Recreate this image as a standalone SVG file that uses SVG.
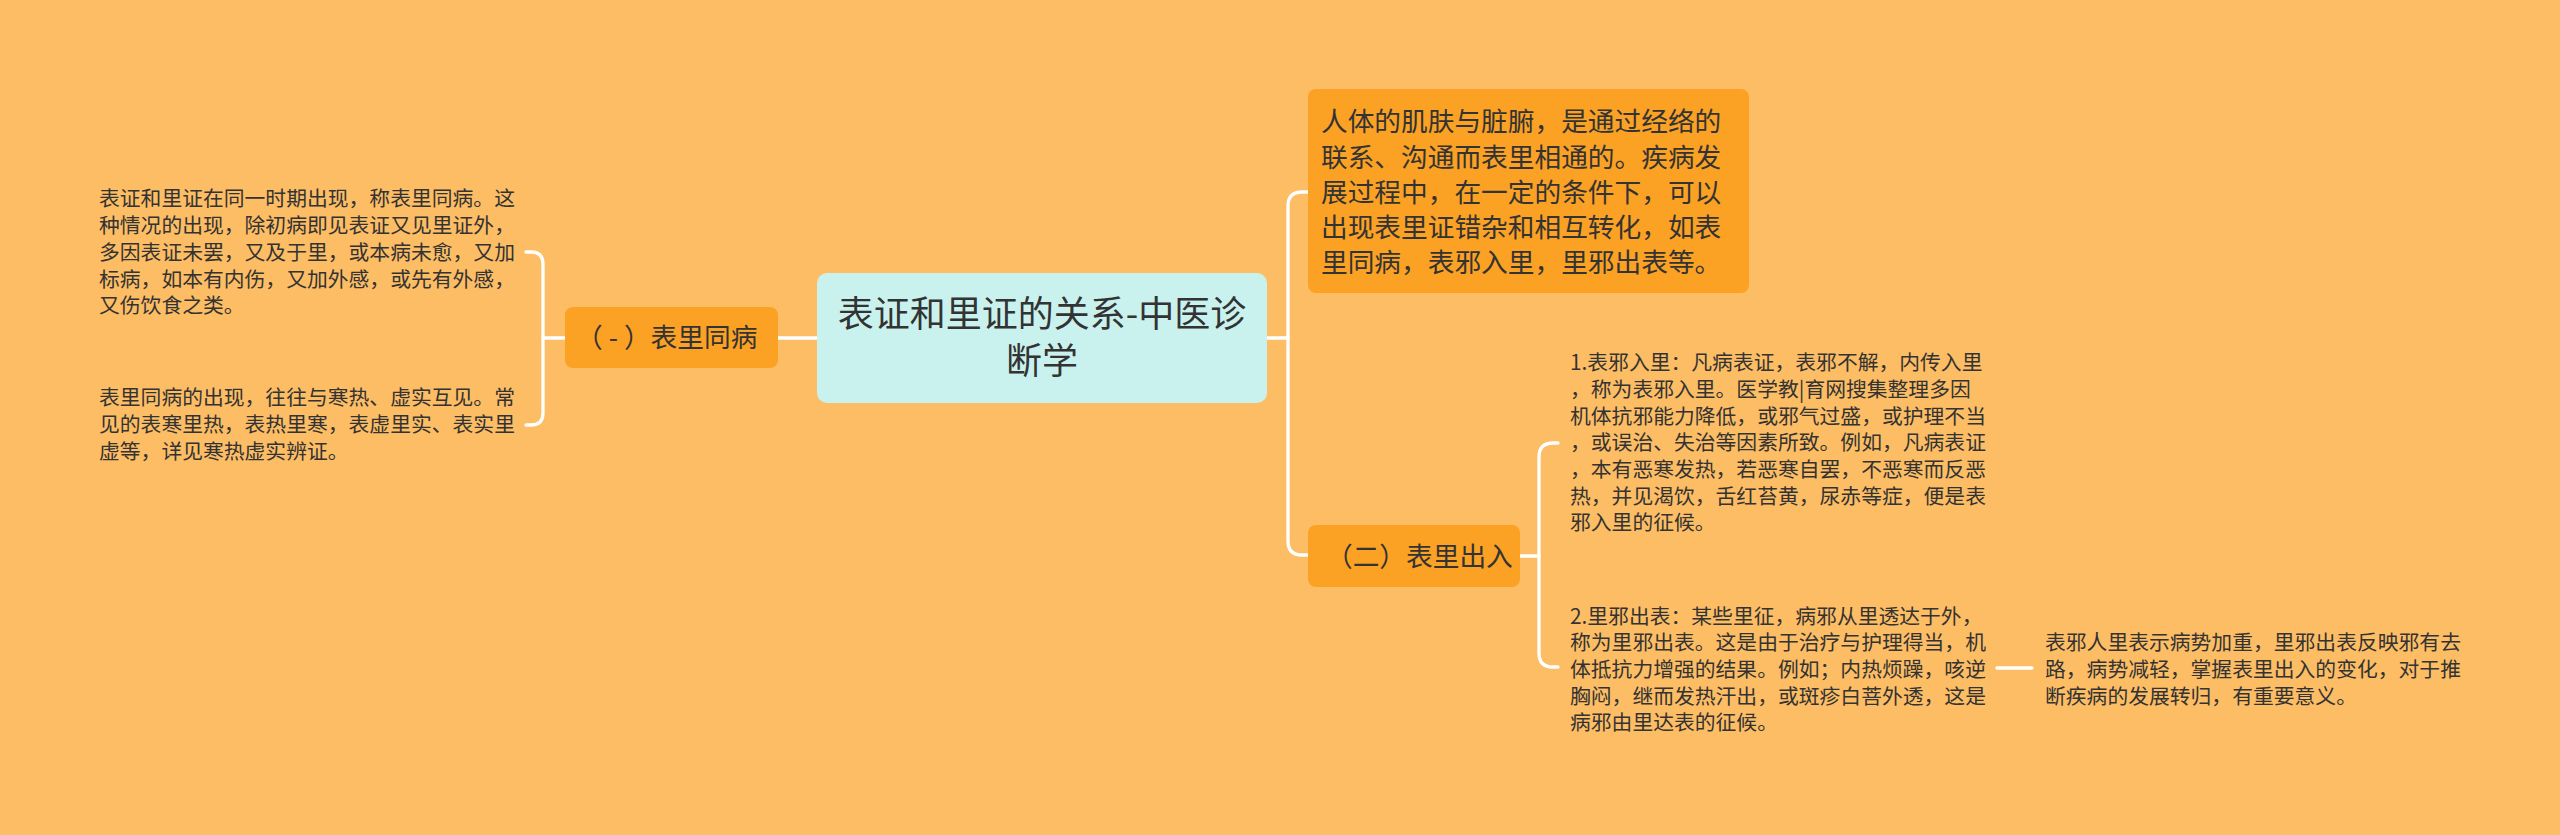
<svg xmlns="http://www.w3.org/2000/svg" width="2560" height="835" viewBox="0 0 2560 835">
<style>
text{font-family:"Noto Sans CJK SC","Noto Sans",sans-serif;fill:#333333}
.leaf{font-size:20.8px}
.mid{font-size:26.7px}
.root{font-size:36px}
.conn{fill:none;stroke:#ffffff;stroke-width:3.3;stroke-linecap:round;stroke-linejoin:round}
.orange{fill:#fba124}
</style>
<rect x="0" y="0" width="2560" height="835" fill="#fdbd64"/>
<g id="connectors">
<path class="conn" d="M817,338 H778"/>
<path class="conn" d="M565,338 H543"/>
<path class="conn" d="M526,252 H531 Q543,252 543,264 V413 Q543,425 531,425 H526"/>
<path class="conn" d="M1267,338 H1288"/>
<path class="conn" d="M1308,192 H1302 Q1288,192 1288,206 V541 Q1288,555 1302,555 H1308"/>
<path class="conn" d="M1520,556 H1539"/>
<path class="conn" d="M1558,443 H1553 Q1539,443 1539,457 V653 Q1539,667 1553,667 H1558"/>
<path class="conn" d="M1997,668 H2032"/>
</g>
<g id="root">
<rect x="817" y="273" width="450" height="130" rx="10" fill="#c9f2ee"/>
<text class="root" x="1042" y="327" text-anchor="middle">表证和里证的关系-中医诊</text>
<text class="root" x="1042" y="374" text-anchor="middle">断学</text>
</g>
<g id="node-intro">
<rect class="orange" x="1308" y="89" width="441" height="204" rx="8"/>
<text class="mid" x="1321" y="131">人体的肌肤与脏腑，是通过经络的</text>
<text class="mid" x="1321" y="167">联系、沟通而表里相通的。疾病发</text>
<text class="mid" x="1321" y="202">展过程中，在一定的条件下，可以</text>
<text class="mid" x="1321" y="237">出现表里证错杂和相互转化，如表</text>
<text class="mid" x="1321" y="272">里同病，表邪入里，里邪出表等。</text>
</g>
<g id="node-1">
<rect class="orange" x="565" y="307" width="213" height="61" rx="8"/>
<text class="mid" x="576" y="347" xml:space="preserve">（ - ）表里同病</text>
</g>
<g id="node-2">
<rect class="orange" x="1308" y="525" width="212" height="62" rx="8"/>
<text class="mid" x="1326" y="566">（二）表里出入</text>
</g>
<g id="leaf-1a">
<text class="leaf" x="99" y="206">表证和里证在同一时期出现，称表里同病。这</text>
<text class="leaf" x="99" y="233">种情况的出现，除初病即见表证又见里证外，</text>
<text class="leaf" x="99" y="260">多因表证未罢，又及于里，或本病未愈，又加</text>
<text class="leaf" x="99" y="287">标病，如本有内伤，又加外感，或先有外感，</text>
<text class="leaf" x="99" y="313">又伤饮食之类。</text>
</g>
<g id="leaf-1b">
<text class="leaf" x="99" y="405">表里同病的出现，往往与寒热、虚实互见。常</text>
<text class="leaf" x="99" y="432">见的表寒里热，表热里寒，表虚里实、表实里</text>
<text class="leaf" x="99" y="459">虚等，详见寒热虚实辨证。</text>
</g>
<g id="leaf-2a">
<text class="leaf" x="1570" y="370">1.表邪入里：凡病表证，表邪不解，内传入里</text>
<text class="leaf" x="1570" y="397">，称为表邪入里。医学教|育网搜集整理多因</text>
<text class="leaf" x="1570" y="424">机体抗邪能力降低，或邪气过盛，或护理不当</text>
<text class="leaf" x="1570" y="450">，或误治、失治等因素所致。例如，凡病表证</text>
<text class="leaf" x="1570" y="477">，本有恶寒发热，若恶寒自罢，不恶寒而反恶</text>
<text class="leaf" x="1570" y="504">热，并见渴饮，舌红苔黄，尿赤等症，便是表</text>
<text class="leaf" x="1570" y="530">邪入里的征候。</text>
</g>
<g id="leaf-2b">
<text class="leaf" x="1570" y="624">2.里邪出表：某些里征，病邪从里透达于外，</text>
<text class="leaf" x="1570" y="650">称为里邪出表。这是由于治疗与护理得当，机</text>
<text class="leaf" x="1570" y="677">体抵抗力增强的结果。例如；内热烦躁，咳逆</text>
<text class="leaf" x="1570" y="704">胸闷，继而发热汗出，或斑疹白菩外透，这是</text>
<text class="leaf" x="1570" y="730">病邪由里达表的征候。</text>
</g>
<g id="leaf-2b-note">
<text class="leaf" x="2045" y="650">表邪人里表示病势加重，里邪出表反映邪有去</text>
<text class="leaf" x="2045" y="677">路，病势减轻，掌握表里出入的变化，对于推</text>
<text class="leaf" x="2045" y="704">断疾病的发展转归，有重要意义。</text>
</g>
</svg>
